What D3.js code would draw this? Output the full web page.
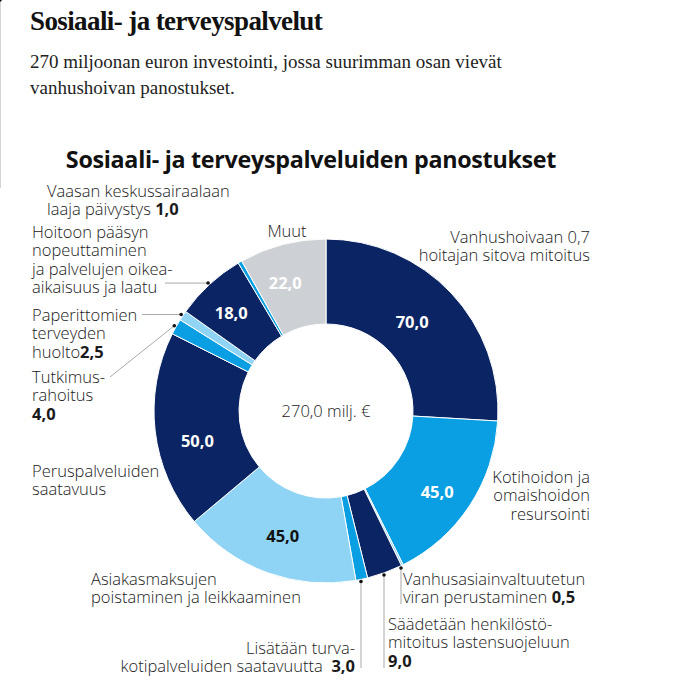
<!DOCTYPE html>
<html><head><meta charset="utf-8">
<script src="https://cdn.jsdelivr.net/npm/d3@7"></script>
<style>
html,body{margin:0;padding:0;background:#fff;overflow:hidden;}
svg{display:block;}
</style></head>
<body>
<svg id="c" width="676" height="692"></svg>
<script>
// ---- data ----
const categories = [
  "Vanhushoivaan 0,7 hoitajan sitova mitoitus",
  "Kotihoidon ja omaishoidon resursointi",
  "Vanhusasiainvaltuutetun viran perustaminen",
  "Säädetään henkilöstömitoitus lastensuojeluun",
  "Lisätään turvakotipalveluiden saatavuutta",
  "Asiakasmaksujen poistaminen ja leikkaaminen",
  "Peruspalveluiden saatavuus",
  "Tutkimusrahoitus",
  "Paperittomien terveyden huolto",
  "Hoitoon pääsyn nopeuttaminen ja palvelujen oikea-aikaisuus ja laatu",
  "Vaasan keskussairaalaan laaja päivystys",
  "Muut"
];
const values = [70, 45, 0.5, 9, 3, 45, 50, 4, 2.5, 18, 1, 22];
const colorGroups = ["navy","blue","light","navy","blue","light","navy","blue","light","navy","blue","gray"];
const totalLabel = "270,0 milj. €";
const title = "Sosiaali- ja terveyspalvelut";
const subtitle = ["270 miljoonan euron investointi, jossa suurimman osan vievät", "vanhushoivan panostukset."];
const chartTitle = "Sosiaali- ja terveyspalveluiden panostukset";

const fmt = v => d3.format(".1f")(v).replace(".", ",");

// ---- layout ----
const palette = {navy:"#0b2463", blue:"#0a9fe2", light:"#8fd4f5", gray:"#cdd1d5"};
const labelColor = {navy:"#fff", blue:"#fff", light:"#111", gray:"#fff"};
const cx = 326, cy = 411, R = 172, r0 = 87;

const svg = d3.select("#c");
const FONT = "'Open Sans', 'Noto Sans', sans-serif";

svg.append("text").attr("x", 30).attr("y", 30)
  .attr("font-family", "'Liberation Serif', 'DejaVu Serif', serif")
  .attr("font-weight", 700).attr("font-size", 27).attr("fill", "#111")
  .attr("letter-spacing", -0.6)
  .text(title);
subtitle.forEach((t, i) => {
  svg.append("text").attr("x", 30).attr("y", 68 + i * 26)
    .attr("font-family", "'Liberation Serif', 'DejaVu Serif', serif")
    .attr("font-size", 19).attr("fill", "#222")
    .text(t);
});
svg.append("text").attr("x", 311).attr("y", 168).attr("text-anchor", "middle")
  .attr("font-family", FONT).attr("font-weight", 700).attr("font-size", 23.3).attr("fill", "#111")
  .attr("letter-spacing", -0.3)
  .text(chartTitle);

const pie = d3.pie().sort(null).value(d => d)(values);
const arc = d3.arc().innerRadius(r0).outerRadius(R);
const g = svg.append("g").attr("transform", `translate(${cx},${cy})`);

g.selectAll("path").data(pie).join("path")
  .attr("d", arc)
  .attr("fill", (d, i) => palette[colorGroups[i]])
  .attr("stroke", "#fff").attr("stroke-width", 1);

// value labels inside large slices (offsets are layout tweaks)
const insideOffsets = {0:[-8,0], 1:[3,10], 5:[1,4], 6:[0,15], 9:[-7,-3], 11:[-8,-3]};
const labelArc = d3.arc().innerRadius((R + r0) / 2).outerRadius((R + r0) / 2);
pie.forEach((d, i) => {
  if (!(i in insideOffsets)) return;
  const [x, y] = labelArc.centroid(d);
  const o = insideOffsets[i];
  g.append("text").attr("x", x + o[0]).attr("y", y + o[1]).attr("dy", "0.35em")
    .attr("text-anchor", "middle")
    .attr("font-family", FONT).attr("font-weight", 700).attr("font-size", 16.5)
    .attr("fill", labelColor[colorGroups[i]])
    .text(fmt(values[i]));
});

g.append("text").attr("x", 0).attr("y", 6).attr("text-anchor", "middle")
  .attr("font-family", FONT).attr("font-weight", 300).attr("font-size", 16.5).attr("fill", "#222")
  .text(totalLabel);

// outer labels: lines as arrays of [text, bold?] segments
const outer = [
  {i:0, x:590, y:243, anchor:"end", lines:[[["Vanhushoivaan 0,7"]],[["hoitajan sitova mitoitus"]]]},
  {i:1, x:590, y:483, anchor:"end", lines:[[["Kotihoidon ja"]],[["omaishoidon"]],[["resursointi"]]]},
  {i:2, x:403, y:585, anchor:"start", lines:[[["Vanhusasiainvaltuutetun"]],[["viran perustaminen "],[fmt(values[2]),1]]], lead:"v", end:604, fx:401},
  {i:3, x:388, y:630, anchor:"start", lines:[[["Säädetään henkilöstö-"]],[["mitoitus lastensuojeluun"]],[[fmt(values[3]),1]]], lead:"v", end:668, fx:384},
  {i:4, x:355, y:654, anchor:"end", lines:[[["Lisätään turva-"]],[["kotipalveluiden saatavuutta  "],[fmt(values[4]),1]]], lead:"v", end:668, fx:361},
  {i:5, x:91, y:585, anchor:"start", lines:[[["Asiakasmaksujen"]],[["poistaminen ja leikkaaminen"]]]},
  {i:6, x:32, y:477, anchor:"start", lines:[[["Peruspalveluiden"]],[["saatavuus"]]]},
  {i:7, x:32, y:383, anchor:"start", lines:[[["Tutkimus-"]],[["rahoitus"]],[[fmt(values[7]),1]]], lead:"d", ex:110, ey:377},
  {i:8, x:32, y:321, anchor:"start", lines:[[["Paperittomien"]],[["terveyden"]],[["huolto"],[fmt(values[8]),1]]], lead:"h", end:142},
  {i:9, x:32, y:238, anchor:"start", lines:[[["Hoitoon pääsyn"]],[["nopeuttaminen"]],[["ja palvelujen oikea-"]],[["aikaisuus ja laatu"]]], lead:"h", end:165},
  {i:10, x:47, y:197, anchor:"start", lines:[[["Vaasan keskussairaalaan"]],[["laaja päivystys "],[fmt(values[10]),1]]], lead:"v", end:188},
  {i:11, x:287, y:237, anchor:"middle", lines:[[["Muut"]]]}
];
const LH = 18.3;
outer.forEach(o => {
  const t = svg.append("text").attr("x", o.x).attr("y", o.y)
    .attr("text-anchor", o.anchor)
    .attr("font-family", FONT).attr("font-weight", 300).attr("font-size", 16.5).attr("fill", "#1a1a1a")
    .attr("xml:space", "preserve");
  o.lines.forEach((segs, li) => {
    segs.forEach((s, si) => {
      const ts = t.append("tspan").text(s[0]);
      if (si === 0) ts.attr("x", o.x).attr("dy", li === 0 ? 0 : LH);
      if (s[1]) ts.attr("font-weight", 700);
    });
  });
  if (o.lead) {
    const d = pie[o.i];
    const a = (d.startAngle + d.endAngle) / 2;
    const rr = R + 2;
    let px = cx + rr * Math.sin(a), py = cy - rr * Math.cos(a);
    let x2, y2;
    if (o.lead === "v") { px = o.fx; py = cy - Math.sqrt(rr * rr - (px - cx) ** 2) * Math.sign(Math.cos(a)); x2 = px; y2 = o.end; }
    else if (o.lead === "h") { x2 = o.end; y2 = py; }
    else { x2 = o.ex; y2 = o.ey; }
    svg.append("line").attr("x1", px).attr("y1", py).attr("x2", x2).attr("y2", y2)
      .attr("stroke", "#a9a9a9").attr("stroke-width", 1);
    svg.append("circle").attr("cx", px).attr("cy", py).attr("r", 1.8).attr("fill", "#111");
  }
});
</script>
</body></html>
